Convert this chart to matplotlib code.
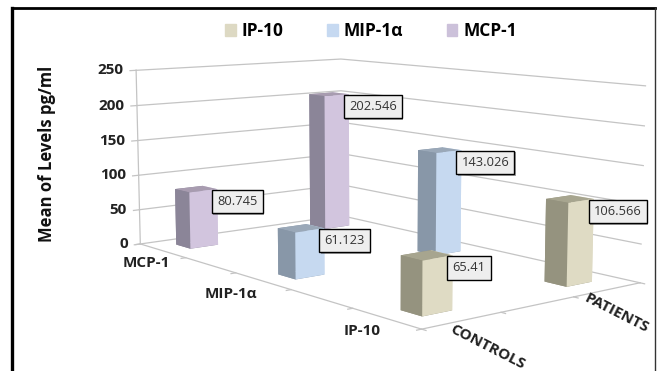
import matplotlib
matplotlib.use("Agg")
import matplotlib.pyplot as plt
import matplotlib.patches as mpatches
import matplotlib.patheffects as pe
from mpl_toolkits.mplot3d import Axes3D, proj3d

plt.rcParams['font.family'] = ['Open Sans', 'DejaVu Sans']

series = ['MCP-1', 'MIP-1α', 'IP-10']
groups = ['CONTROLS', 'PATIENTS']
controls = [80.745, 61.123, 65.41]
patients = [202.546, 143.026, 106.566]
value_labels_controls = ['80.745', '61.123', '65.41']
value_labels_patients = ['202.546', '143.026', '106.566']
zticks = [0, 50, 100, 150, 200, 250]

light = ['#d2c5de', '#c6d9f0', '#dfdbc4']
dark = ['#8b8598', '#8897a8', '#95937f']
top = ['#a89cb0', '#9aa8b8', '#a7a58f']
legend_colors = {'IP-10': '#ddd9c3', 'MIP-1α': '#c6d9f1', 'MCP-1': '#ccc1da'}

series_pos = [0.45, 2.5, 4.5]
series_label_dx = [7, -4, -4]
group_pos = [0.5, 2.46]
group_label_dx = [-6, -12]
xmax, ymax = 5, 3
bar_dx, bar_dy = 0.31, 0.38
grid_c = '#c4c4c4'

W, H = 665.0, 371.0
S = 760.0  # side of the square 3d axes, px
cx, cy = 364.0, 181.0  # centre of it, px from top-left

fig = plt.figure(figsize=(6.65, 3.71), dpi=100)
ax = fig.add_axes([(cx - S / 2) / W, 1 - (cy + S / 2) / H, S / W, S / H], projection='3d', computed_zorder=False)
ax.set_proj_type('persp', focal_length=0.35)
ax.view_init(elev=8.4, azim=-39)
ax.set_box_aspect((465, 275, 188), zoom=0.725)
ax.set_xlim(0, xmax)
ax.set_ylim(0, ymax)
ax.set_zlim(0, 250)
ax.set_axis_off()
ax.patch.set_alpha(0)


def label3d(x, y, z, s, dx=0, dy=0, **kw):
    # 3d point -> projected data coords, then a normal 2d annotation
    px, py, _ = proj3d.proj_transform(x, y, z, ax.get_proj())
    return ax.annotate(s, xy=(px, py), xycoords='data', xytext=(dx, dy),
                       textcoords='offset points', annotation_clip=False, **kw)


# walls
for z in zticks:
    ax.plot([0, 0, xmax], [0, ymax, ymax], [z, z, z], color=grid_c, lw=0.9, zorder=1)
    ax.plot([0, 0], [0, -0.08], [z, z], color=grid_c, lw=0.9, zorder=1)
    label3d(0, 0, z, str(z), dx=-9, dy=0, ha='right', va='center', fontsize=11,
            fontweight='bold', color='#222222', zorder=30)
ax.plot([0, 0], [0, 0], [0, 250], color=grid_c, lw=0.9, zorder=1)
ax.plot([0, xmax, xmax], [0, 0, ymax], [0, 0, 0], color=grid_c, lw=0.9, zorder=1)
for i in range(xmax + 1):
    ax.plot([i, i], [0, -0.06], [0, 0], color=grid_c, lw=0.9, zorder=1)
for j in range(ymax + 1):
    ax.plot([xmax, xmax + 0.06], [j, j], [0, 0], color=grid_c, lw=0.9, zorder=1)

# bars back to front
order = 2
for j, vals in [(1, patients), (0, controls)]:
    for i in range(3):
        xp = series_pos[i] - bar_dx / 2
        yp = group_pos[j] - bar_dy / 2
        # faces: -z, +z, -y, +y, -x, +x
        cols = [dark[i], top[i], dark[i], light[i], dark[i], light[i]]
        ax.bar3d(xp, yp, 0, bar_dx, bar_dy, vals[i], color=cols, shade=False,
                 zorder=order)
        order += 1
for j, vals, labs in [(1, patients, value_labels_patients), (0, controls, value_labels_controls)]:
    for i in range(3):
        t = label3d(series_pos[i] + bar_dx / 2, group_pos[j] + bar_dy / 2, vals[i], labs[i],
                    dx=0, dy=-9, ha='left', va='center', fontsize=9.3, color='#333333', zorder=20,
                    bbox=dict(boxstyle='square,pad=0.4', fc='#eeeeee', ec='black', lw=1))
        t.get_bbox_patch().set_path_effects([pe.withSimplePatchShadow(offset=(1, -1), alpha=0.5)])

for i, name in enumerate(series):
    label3d(series_pos[i], 0, 0, name, dx=series_label_dx[i], dy=-4, ha='right', va='top', fontsize=11,
            fontweight='bold', color='#222222', zorder=30)
for j, name in enumerate(groups):
    label3d(xmax, group_pos[j], 0, name, dx=group_label_dx[j], dy=-1, ha='left', va='top', fontsize=11,
            fontweight='bold', color='#222222', rotation=-27, rotation_mode='anchor', zorder=30)

fig.text(47 / 665, 1 - 154 / 371, 'Mean of Levels pg/ml', rotation=90, ha='center', va='center',
         fontsize=12, fontweight='bold', color='#111111')

handles = [mpatches.Patch(color=legend_colors[n]) for n in ['IP-10', 'MIP-1α', 'MCP-1']]
leg = fig.legend(handles, ['IP-10', 'MIP-1α', 'MCP-1'], ncol=3, frameon=False,
                 loc='center', bbox_to_anchor=(371 / 665, 1 - 31 / 371),
                 prop=dict(size=12.5, weight='bold'), handlelength=0.62, handleheight=0.62,
                 columnspacing=2.5, handletextpad=0.35)

# picture frame
fig.add_artist(plt.Line2D([12 / 665, 12 / 665], [0, 1 - 8 / 371], color='black', lw=2.4))
fig.add_artist(plt.Line2D([12 / 665, 655 / 665], [1 - 8 / 371, 1 - 8 / 371], color='black', lw=2))
fig.add_artist(plt.Line2D([655 / 665, 655 / 665], [0, 1 - 8 / 371], color='#333333', lw=1))

fig.savefig('out.png', dpi=100)
